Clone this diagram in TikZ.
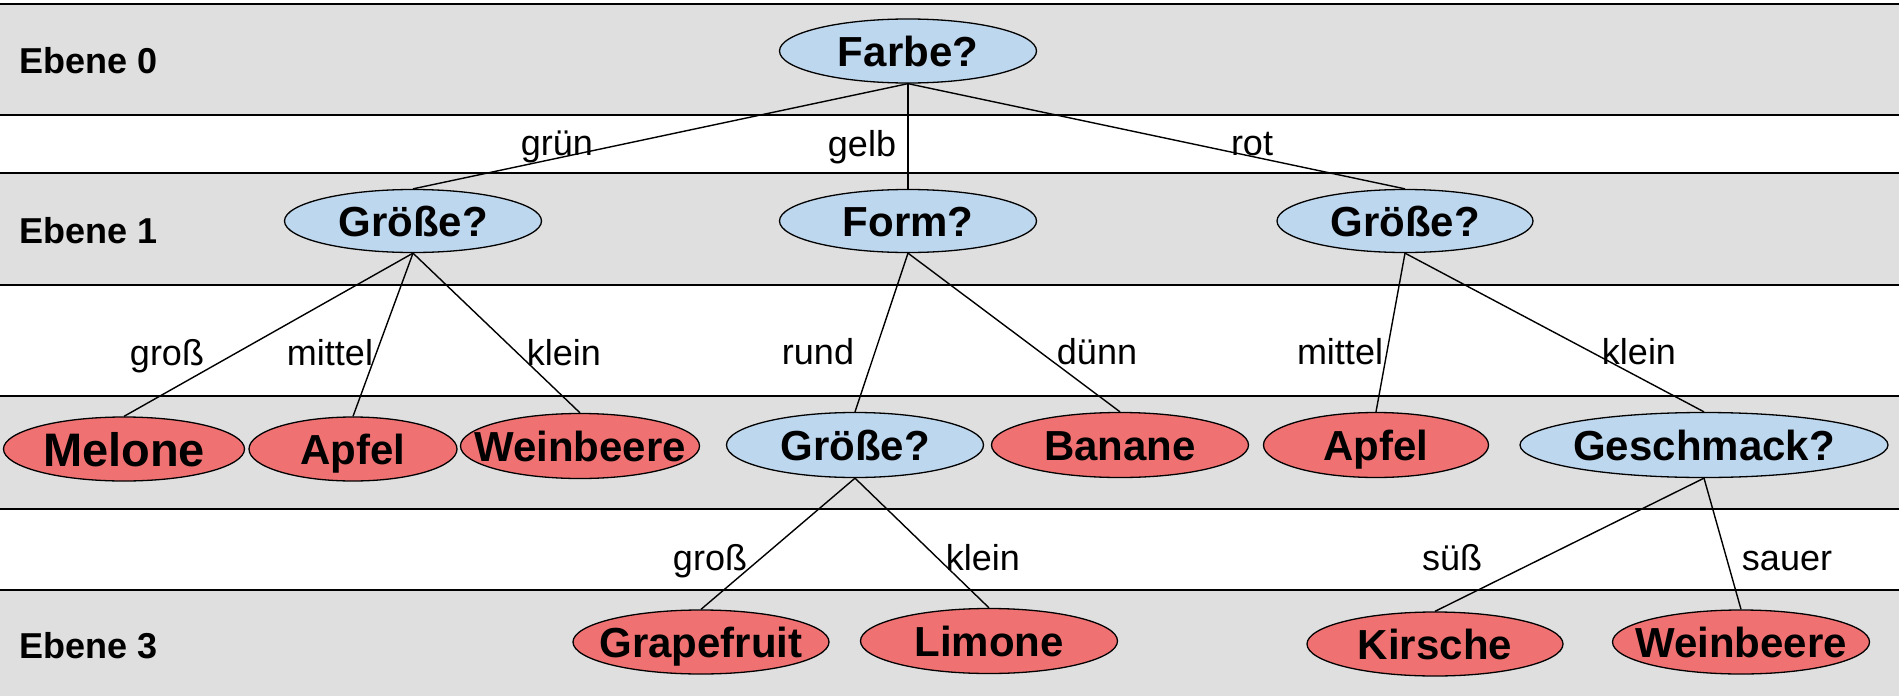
\documentclass[tikz,border=0pt]{standalone}
\usepackage{fontspec}
\setmainfont{Liberation Sans}
\usetikzlibrary{shapes.geometric}
\definecolor{bandgray}{RGB}{223,223,223}
\definecolor{qblue}{RGB}{189,215,238}
\definecolor{lred}{RGB}{240,113,113}
\begin{document}
\begin{tikzpicture}[x=1pt,y=-1pt,
  band/.style={fill=bandgray,draw=black,line width=2pt},
  qnode/.style={ellipse,draw=black,line width=1.3pt,fill=qblue,inner sep=0pt},
  leaf/.style={ellipse,draw=black,line width=1.3pt,fill=lred,inner sep=0pt},
  ntext/.style={font=\bfseries\fontsize{42}{48}\selectfont,inner sep=0pt,text height=30pt,text depth=0pt},
  bigtext/.style={font=\bfseries\fontsize{47}{54}\selectfont,inner sep=0pt,text height=34pt,text depth=0pt},
  elabel/.style={font=\fontsize{36}{42}\selectfont,inner sep=0pt,anchor=base},
  levellabel/.style={font=\bfseries\fontsize{36}{42}\selectfont,inner sep=0pt,anchor=base west},
  conn/.style={draw=black,line width=1.4pt}]

\useasboundingbox (0,0) rectangle (1899,696);
\clip (0,0) rectangle (1899,696);
\fill[white] (0,0) rectangle (1899,696);

% bands
\path[band] (-10,3.6) rectangle (1910,115);
\path[band] (-10,173) rectangle (1910,285);
\path[band] (-10,396) rectangle (1910,509);
\path[band] (-10,590) rectangle (1910,710);

% level labels
\node[levellabel] (e0) at (19,73) {Ebene 0};
\node[levellabel] (e1) at (19,243) {Ebene 1};
\node[levellabel] (e3) at (19,658) {Ebene 3};

% level 0
\node[qnode,minimum width=257pt,minimum height=64pt,label={[ntext]center:Farbe?}] (farbe) at (908,51) {};
% level 1
\node[qnode,minimum width=257pt,minimum height=63pt,label={[ntext]center:Größe?}] (gL) at (413,221) {};
\node[qnode,minimum width=257pt,minimum height=63pt,label={[ntext]center:Form?}] (form) at (908,221) {};
\node[qnode,minimum width=256pt,minimum height=63pt,label={[ntext]center:Größe?}] (gR) at (1405,221) {};
% level 2
\node[leaf,minimum width=241pt,minimum height=64pt,label={[bigtext]center:Melone}] (melone) at (124,449) {};
\node[leaf,minimum width=208pt,minimum height=64pt,label={[ntext]center:Apfel}] (apfelL) at (353,449) {};
\node[leaf,minimum width=239pt,minimum height=65pt,label={[ntext]center:Weinbeere}] (weinL) at (580,446) {};
\node[qnode,minimum width=257pt,minimum height=65pt,label={[ntext]center:Größe?}] (gM) at (855,445) {};
\node[leaf,minimum width=257pt,minimum height=65pt,label={[ntext]center:Banane}] (banane) at (1120,445) {};
\node[leaf,minimum width=225pt,minimum height=65pt,label={[ntext]center:Apfel}] (apfelR) at (1376,445) {};
\node[qnode,minimum width=368pt,minimum height=65pt,label={[ntext]center:Geschmack?}] (gesch) at (1704,445) {};
% level 3
\node[leaf,minimum width=256pt,minimum height=64pt,label={[ntext]center:Grapefruit}] (grape) at (701,642) {};
\node[leaf,minimum width=257pt,minimum height=65pt,label={[ntext]center:Limone}] (limone) at (989,641) {};
\node[leaf,minimum width=256pt,minimum height=64pt,label={[ntext]center:Kirsche}] (kirsche) at (1435,644) {};
\node[leaf,minimum width=257pt,minimum height=64pt,label={[ntext]center:Weinbeere}] (weinR) at (1741,642) {};

% connectors between named nodes
\draw[conn] (farbe.south) -- (gL.north);
\draw[conn] (farbe.south) -- (form.north);
\draw[conn] (farbe.south) -- (gR.north);
\draw[conn] (gL.south) -- (melone.north);
\draw[conn] (gL.south) -- (apfelL.north);
\draw[conn] (gL.south) -- (weinL.north);
\draw[conn] (form.south) -- (gM.north);
\draw[conn] (form.south) -- (banane.north);
\draw[conn] (gR.south) -- (apfelR.north);
\draw[conn] (gR.south) -- (gesch.north);
\draw[conn] (gM.south) -- (grape.north);
\draw[conn] (gM.south) -- (limone.north);
\draw[conn] (gesch.south) -- (kirsche.north);
\draw[conn] (gesch.south) -- (weinR.north);

% edge labels
\node[elabel] (lgruen) at (557,155) {grün};
\node[elabel] (lgelb) at (862,156) {gelb};
\node[elabel] (lrot) at (1252,155) {rot};
\node[elabel] (lgross1) at (167,365) {groß};
\node[elabel] (lmittel1) at (330,365) {mittel};
\node[elabel] (lklein1) at (564,365) {klein};
\node[elabel] (lrund) at (818,364) {rund};
\node[elabel] (lduenn) at (1097,364) {dünn};
\node[elabel] (lmittel2) at (1340,364) {mittel};
\node[elabel] (lklein2) at (1639,364) {klein};
\node[elabel] (lgross2) at (710,570) {groß};
\node[elabel] (lklein3) at (983,570) {klein};
\node[elabel] (lsuess) at (1452,570) {süß};
\node[elabel] (lsauer) at (1787,570) {sauer};
\end{tikzpicture}
\end{document}
